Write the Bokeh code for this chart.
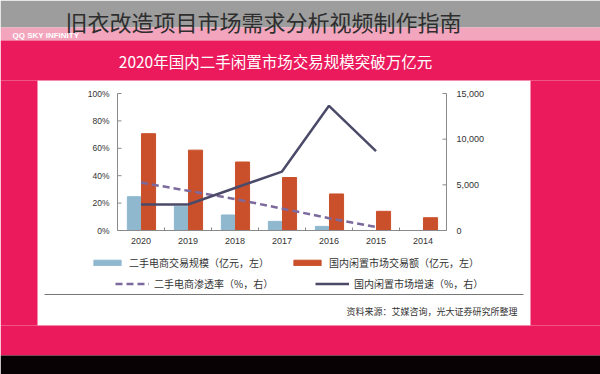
from bokeh.plotting import figure
from bokeh.models import Range1d, BoxAnnotation, Legend, LegendItem, ColumnDataSource
from bokeh.core.properties import value
from bokeh.transform import dodge
from bokeh.embed import file_html
from bokeh.resources import INLINE

# ---------------- data ----------------
years = ["2020", "2019", "2018", "2017", "2016", "2015", "2014"]
idle_trade = [10600, 8800, 7500, 5800, 4000, 2100, 1400]      # 国内闲置市场交易额（亿元）
ecom_scale = [3700, 2650, 1700, 1000, 450, 0, 0]               # 二手电商交易规模（亿元）
idle_growth = [19, 19, 31, 43, 91, 58, float("nan")]           # 国内闲置市场增速（%）
ecom_penetration = [35, 29, 23, 16, 9, 2.5, float("nan")]      # 二手电商渗透率（%）
pct_ticks = [0, 20, 40, 60, 80, 100]
amt_ticks = [0, 5000, 10000, 15000]
pct_max = 100
amt_max = 15000

title_text = "旧衣改造项目市场需求分析视频制作指南"
brand_text = "QQ SKY INFINITY"
sub_text = "2020年国内二手闲置市场交易规模突破万亿元"
source_text = "资料来源：艾媒咨询，光大证券研究所整理"
lab_trade = "国内闲置市场交易额（亿元，左）"
lab_scale = "二手电商交易规模（亿元，左）"
lab_growth = "国内闲置市场增速（%，右）"
lab_pen = "二手电商渗透率（%，右）"

CJK = "Noto Sans CJK SC"
NUM = "Liberation Sans"
CRIMSON = "#eb1a5c"
AX = "#8a8a8a"
TXT = "#333333"

# ---------------- layout (page pixels) ----------------
W, H = 600, 374            # figure size
X0, Y0 = 0, 0              # figure origin on the page
PL, PR, PT, PB = 117, 446, 93, 230   # plot area on the page

n = len(years)
ux = (PR - PL) / n
per_pct = (PB - PT) / pct_max
per_amt = (PB - PT) / amt_max

p = figure(width=W, height=H, output_backend="svg", toolbar_location=None, title=None,
           x_range=Range1d(X0, X0 + W), y_range=Range1d(Y0 + H, Y0),
           x_axis_location=None, y_axis_location=None,
           min_border=0, min_border_left=0, min_border_right=0,
           min_border_top=0, min_border_bottom=0)
p.outline_line_color = None
p.background_fill_color = "white"
p.border_fill_color = "white"
p.xgrid.visible = False
p.ygrid.visible = False

p.extra_x_ranges = {"cat": Range1d(-0.5 + (X0 - PL) / ux, -0.5 + (X0 + W - PL) / ux)}
p.extra_y_ranges = {
    "pct": Range1d((PB - (Y0 + H)) / per_pct, (PB - Y0) / per_pct),
    "amt": Range1d((PB - (Y0 + H)) / per_amt, (PB - Y0) / per_amt),
}

# ---------------- page decoration ----------------
def box(l, r, t, b, color):
    p.add_layout(BoxAnnotation(left=l, right=r, top=t, bottom=b,
                               fill_color=color, fill_alpha=1, line_color=None,
                               level="underlay"))

box(0, 600, 0, 27, "#9d9d9d")
box(0, 600, 27, 40, "#f3a5bd")
box(0, 600, 40, 80, CRIMSON)
box(0, 600, 325, 355, CRIMSON)
box(0, 37, 80, 325, CRIMSON)
box(530, 600, 80, 325, CRIMSON)
box(0, 600, 355, 374, "#080205")
box(44, 523, 293.5, 294.5, "#777777")

def label(x, y, text, size, color, font=CJK, align="left", style="normal"):
    p.text(x=[x], y=[y], text=[text], text_font=value(font), text_font_size=size,
           text_color=color, text_align=align, text_baseline="middle",
           text_font_style=style)

label(263, 20, title_text, "22px", "#2e2e2e", align="center")
label(12, 35, brand_text, "8px", "white", font=NUM, style="bold")
label(275, 60, sub_text, "15.5px", "white", align="center")
label(517, 311, source_text, "9px", TXT, align="right")

# ---------------- chart ----------------
idx = list(range(n))
src = ColumnDataSource(dict(idx=idx, year=years, trade=idle_trade, scale=ecom_scale,
                            growth=idle_growth, pen=ecom_penetration))

r_scale = p.vbar(x=dodge("idx", -0.15), top="scale", width=0.28, source=src,
                 x_range_name="cat", y_range_name="amt", color="#8fb8cf")
r_trade = p.vbar(x=dodge("idx", 0.16), top="trade", width=0.3, source=src,
                 x_range_name="cat", y_range_name="amt", color="#c9502b")
r_pen = p.line(x="idx", y="pen", source=src, x_range_name="cat", y_range_name="pct",
               line_color="#7d6a9c", line_width=2.5, line_dash="7 4")
r_growth = p.line(x="idx", y="growth", source=src, x_range_name="cat", y_range_name="pct",
                  line_color="#4b4a68", line_width=2.5)

# axes (left: percent, right: amount, bottom: years)
xl, xr = -0.5, n - 0.5
p.segment(x0=[xl], y0=[0], x1=[xl], y1=[pct_max], x_range_name="cat", y_range_name="pct",
          line_color=AX, line_width=1)
p.segment(x0=[xr], y0=[0], x1=[xr], y1=[amt_max], x_range_name="cat", y_range_name="amt",
          line_color=AX, line_width=1)
p.segment(x0=[xl], y0=[0], x1=[xr], y1=[0], x_range_name="cat", y_range_name="pct",
          line_color=AX, line_width=1)
p.ray(x=[xl] * len(pct_ticks), y=pct_ticks, length=4, length_units="screen", angle=0,
      x_range_name="cat", y_range_name="pct", line_color=AX)
p.ray(x=[xr] * len(amt_ticks), y=amt_ticks, length=4, length_units="screen", angle=3.14159265,
      x_range_name="cat", y_range_name="amt", line_color=AX)
# small ticks between categories
p.ray(x=[i + 0.5 for i in idx[:-1]], y=[0] * (n - 1), length=3, length_units="screen",
      angle=1.5707963, x_range_name="cat", y_range_name="pct", line_color=AX)

p.text(x=[xl] * len(pct_ticks), y=pct_ticks, text=[f"{t}%" for t in pct_ticks],
       x_offset=-8, text_align="right", text_baseline="middle", text_font=value(NUM),
       text_font_size="8.5px", text_color=TXT, x_range_name="cat", y_range_name="pct")
p.text(x=[xr] * len(amt_ticks), y=amt_ticks, text=[f"{t:,}" for t in amt_ticks],
       x_offset=10, text_align="left", text_baseline="middle", text_font=value(NUM),
       text_font_size="9px", text_color=TXT, x_range_name="cat", y_range_name="amt")
p.text(x=idx, y=[0] * n, text=years, y_offset=7, text_align="center", text_baseline="top",
       text_font=value(NUM), text_font_size="9px", text_color=TXT,
       x_range_name="cat", y_range_name="pct")

# ---------------- legends ----------------
def leg(x, yc, text, r):
    lg = Legend(items=[LegendItem(label=text, renderers=[r])],
                location=(x - X0, (Y0 + H) - (yc + 7.5)),
                orientation="horizontal", glyph_width=34, glyph_height=7, label_height=7,
                label_standoff=5, padding=0, margin=0, spacing=0,
                border_line_color=None, background_fill_alpha=0,
                label_text_font=CJK, label_text_font_size="10px",
                label_text_color=TXT)
    p.add_layout(lg)

leg(90, 262, lab_scale, r_scale)
leg(290, 262, lab_trade, r_trade)
leg(115, 283, lab_pen, r_pen)
leg(315, 283, lab_growth, r_growth)

open("out.html", "w").write(file_html(p, INLINE))
